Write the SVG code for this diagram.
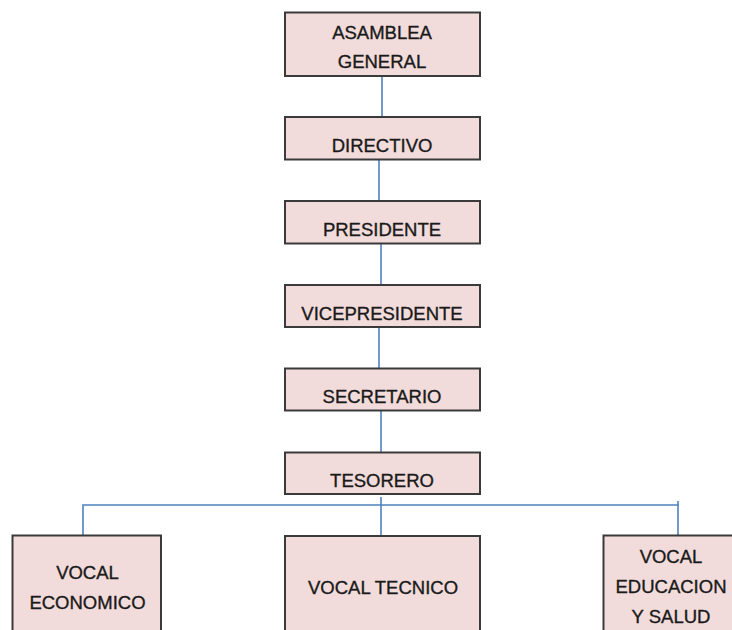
<svg xmlns="http://www.w3.org/2000/svg" width="732" height="630" viewBox="0 0 732 630">
<style>
.box{fill:#f2dcdb;stroke:#3a3a3a;stroke-width:2}
.t{font-family:"Liberation Sans",Arial,sans-serif;font-size:18.5px;fill:#1a1a1a;stroke:#1a1a1a;stroke-width:0.35;text-anchor:middle}
.c{stroke:#4f81bd;stroke-width:1.6;fill:none}
</style>
<rect width="732" height="630" fill="#ffffff"/>
<g id="connectors">
<line class="c" x1="382" y1="76" x2="382" y2="117"/>
<line class="c" x1="379" y1="160" x2="379" y2="201"/>
<line class="c" x1="381" y1="243" x2="381" y2="285"/>
<line class="c" x1="379" y1="327" x2="379" y2="368"/>
<line class="c" x1="381" y1="411" x2="381" y2="452"/>
<line class="c" x1="381" y1="497" x2="381" y2="539"/>
<polyline class="c" points="83,536 83,505 678,505 678,537"/>
<line class="c" x1="678" y1="501" x2="678" y2="505"/>
</g>
<g id="asamblea"><rect class="box" x="285" y="12.5" width="195" height="63.5"/><text class="t" x="382" y="38.5">ASAMBLEA</text><text class="t" x="382" y="68.3">GENERAL</text></g>
<g id="directivo"><rect class="box" x="285" y="117" width="195" height="42.5"/><text class="t" x="382" y="151.7">DIRECTIVO</text></g>
<g id="presidente"><rect class="box" x="285" y="201" width="195" height="42.5"/><text class="t" x="382" y="236">PRESIDENTE</text></g>
<g id="vicepresidente"><rect class="box" x="285" y="285" width="195" height="42"/><text class="t" x="382" y="319.5">VICEPRESIDENTE</text></g>
<g id="secretario"><rect class="box" x="285" y="368.5" width="195" height="42"/><text class="t" x="382" y="403.3">SECRETARIO</text></g>
<g id="tesorero"><rect class="box" x="285" y="452.5" width="195" height="41.5"/><text class="t" x="382" y="486.5">TESORERO</text></g>
<g id="vocal-economico"><rect class="box" x="12.5" y="535.5" width="148.5" height="110"/><text class="t" x="87.5" y="579">VOCAL</text><text class="t" x="87.5" y="609">ECONOMICO</text></g>
<g id="vocal-tecnico"><rect class="box" x="285" y="536" width="195" height="110"/><text class="t" x="383" y="594">VOCAL TECNICO</text></g>
<g id="vocal-educacion"><rect class="box" x="603.5" y="535.5" width="150" height="110"/><text class="t" x="671" y="563">VOCAL</text><text class="t" x="671" y="593">EDUCACION</text><text class="t" x="671" y="623">Y SALUD</text></g>
</svg>
